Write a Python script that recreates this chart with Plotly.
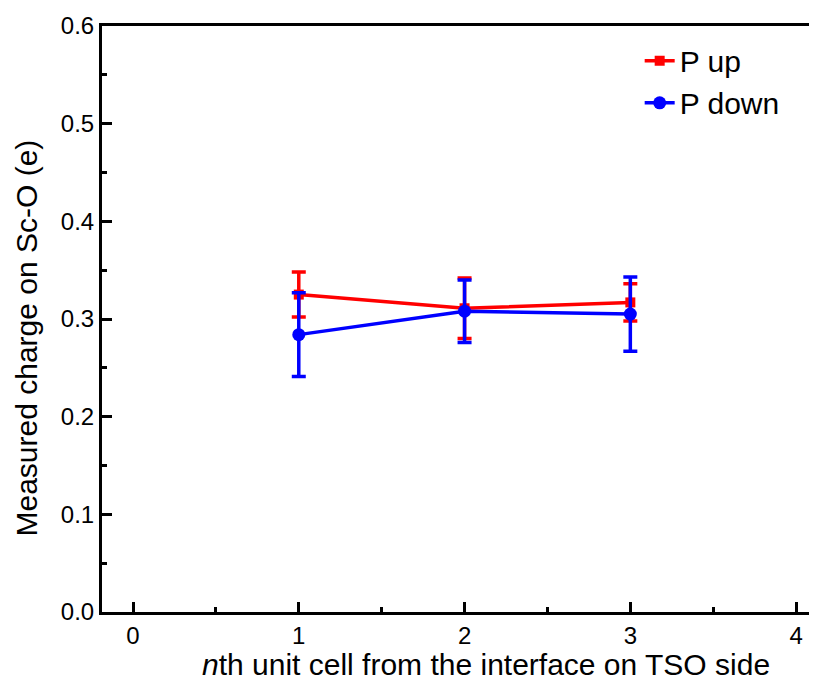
import plotly.graph_objects as go

x_cells = [1, 2, 3]
p_up = [0.325, 0.311, 0.317]
p_up_err = [0.023, 0.031, 0.019]
p_down = [0.284, 0.308, 0.305]
p_down_err = [0.043, 0.032, 0.038]

x_ticks = [0, 1, 2, 3, 4]
y_ticks = [0.0, 0.1, 0.2, 0.3, 0.4, 0.5, 0.6]
y_tick_labels = ["0.0", "0.1", "0.2", "0.3", "0.4", "0.5", "0.6"]

x_title = "<i>n</i>th unit cell from the interface on TSO side"
y_title = "Measured charge on Sc-O (e)"

font = "Liberation Sans, Arial, sans-serif"

fig = go.Figure()
fig.add_trace(go.Scatter(
    x=x_cells, y=p_up, mode="lines+markers", name="P up",
    line=dict(color="#FF0000", width=3.5),
    marker=dict(symbol="square", size=10, color="#FF0000"),
    error_y=dict(type="data", array=p_up_err, color="#FF0000", thickness=3.5, width=7),
))
fig.add_trace(go.Scatter(
    x=x_cells, y=p_down, mode="lines+markers", name="P down",
    line=dict(color="#0000FF", width=3.5),
    marker=dict(symbol="circle", size=13, color="#0000FF"),
    error_y=dict(type="data", array=p_down_err, color="#0000FF", thickness=3.5, width=7),
))

fig.update_layout(
    width=809, height=673,
    margin=dict(l=94, r=0, t=18, b=69, autoexpand=False),
    paper_bgcolor="white", plot_bgcolor="white",
    font=dict(family=font, color="black"),
    showlegend=True,
    legend=dict(x=0.752, y=0.985, xanchor="left", yanchor="top",
                font=dict(size=30, family=font), bgcolor="rgba(0,0,0,0)",
                tracegroupgap=0),
    xaxis=dict(
        range=[-0.187, 4.126], tickvals=x_ticks, ticktext=[str(v) for v in x_ticks],
        showgrid=False, zeroline=False, automargin=False,
        showline=True, linecolor="black", linewidth=3, mirror=True,
        ticks="inside", ticklen=10, tickwidth=2.5, tickcolor="black",
        minor=dict(dtick=0.5, tick0=0, ticks="inside", ticklen=5, tickwidth=2.5, tickcolor="black"),
        tickfont=dict(size=24, family=font),
    ),
    yaxis=dict(
        range=[0, 0.6], tickvals=y_ticks, ticktext=y_tick_labels,
        showgrid=False, zeroline=False, automargin=False,
        showline=True, linecolor="black", linewidth=3,
        ticks="inside", ticklen=10, tickwidth=2.5, tickcolor="black",
        minor=dict(dtick=0.05, tick0=0, ticks="inside", ticklen=5, tickwidth=2.5, tickcolor="black"),
        tickfont=dict(size=24, family=font),
    ),
    annotations=[
        dict(text=x_title, xref="paper", yref="paper", x=0.5364, y=-0.0904,
             xanchor="center", yanchor="middle", showarrow=False,
             font=dict(size=30, family=font, color="black")),
        dict(text=y_title, xref="paper", yref="paper", x=-0.1049, y=0.4684,
             xanchor="center", yanchor="middle", showarrow=False, textangle=-90,
             font=dict(size=30, family=font, color="black")),
    ],
)

fig.write_html("out.html")
